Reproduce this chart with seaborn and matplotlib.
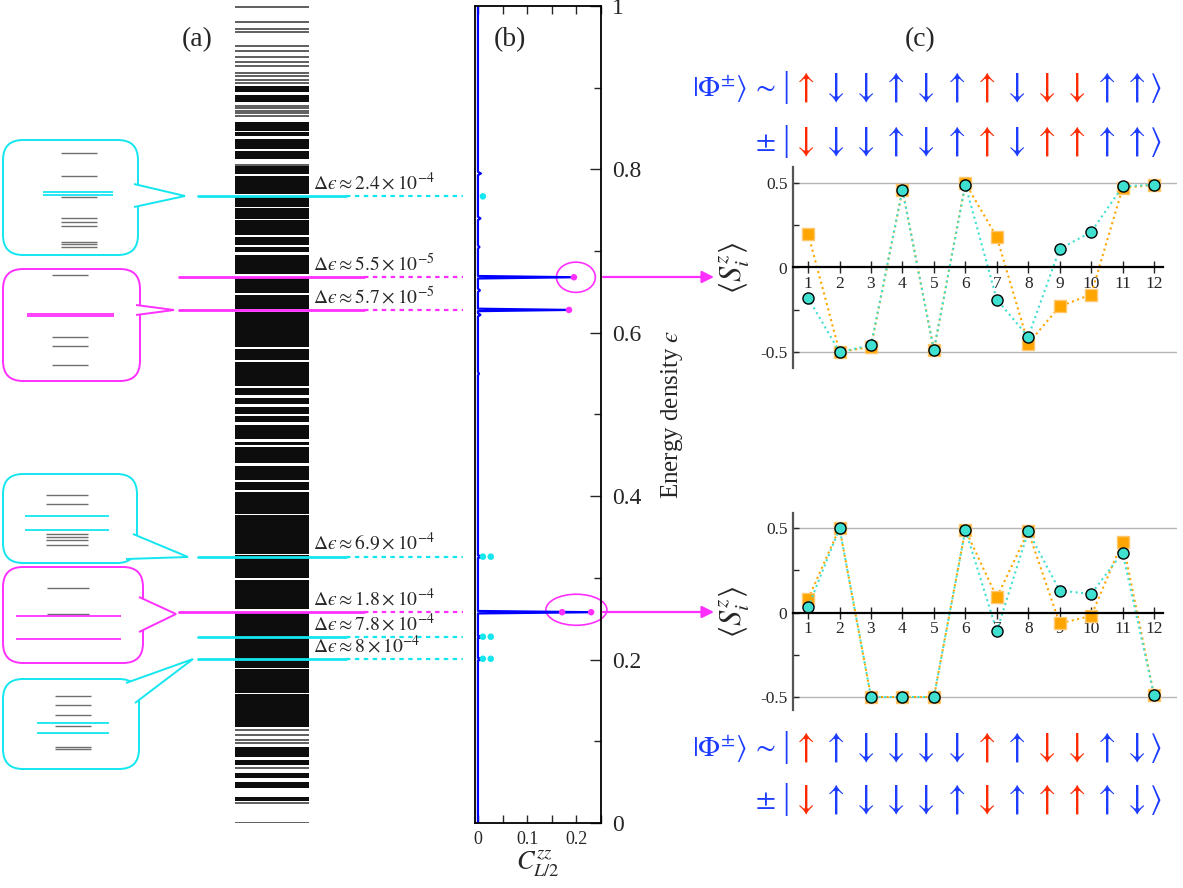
import matplotlib
matplotlib.use("Agg")
import matplotlib.pyplot as plt
import seaborn as sns
from matplotlib.patches import FancyBboxPatch, Polygon, Ellipse

# ---------------- data ----------------
# (a) spectrum: isolated levels and dense clusters (energy density)
single_levels = [0.999, 0.980, 0.972, 0.968, 0.951, 0.945, 0.938, 0.932, 0.927,
                 0.918, 0.914, 0.909, 0.906, 0.878, 0.875, 0.872, 0.869, 0.865,
                 0.805, 0.114, 0.108, 0.102, 0.098, 0.067, 0.024, 0.0]
level_bands = [(0.895, 0.901), (0.883, 0.891), (0.848, 0.858), (0.841, 0.845),
               (0.825, 0.837), (0.813, 0.822), (0.795, 0.803), (0.771, 0.791),
               (0.754, 0.767), (0.740, 0.752), (0.720, 0.738), (0.708, 0.717),
               (0.699, 0.705), (0.673, 0.695), (0.649, 0.668), (0.630, 0.646),
               (0.583, 0.625), (0.567, 0.579), (0.536, 0.564), (0.524, 0.532),
               (0.513, 0.520), (0.501, 0.509), (0.491, 0.497), (0.471, 0.487),
               (0.463, 0.466), (0.441, 0.460), (0.420, 0.436), (0.408, 0.417),
               (0.395, 0.405), (0.387, 0.393), (0.379, 0.386), (0.330, 0.377),
               (0.300, 0.328), (0.263, 0.297), (0.246, 0.258), (0.220, 0.245),
               (0.190, 0.218), (0.160, 0.188), (0.138, 0.157), (0.118, 0.136),
               (0.081, 0.092), (0.071, 0.077), (0.056, 0.061), (0.043, 0.049),
               (0.028, 0.031)]

# highlighted near-degenerate pairs
pair_energy = [0.767, 0.668, 0.628, 0.326, 0.258, 0.228, 0.201]
pair_kind = ["c", "m", "m", "c", "m", "c", "c"]
pair_gap = [r"2.4\times10^{-4}", r"5.5\times10^{-5}", r"5.7\times10^{-5}",
            r"6.9\times10^{-4}", r"1.8\times10^{-4}", r"7.8\times10^{-4}",
            r"8\times10^{-4}"]

# (b) half-chain correlator vs energy density
c_energy = [0.0, 0.199, 0.2005, 0.202, 0.2265, 0.2275, 0.229, 0.2565, 0.258,
            0.2595, 0.3245, 0.326, 0.3275, 0.548, 0.55, 0.552, 0.620, 0.622,
            0.624, 0.6265, 0.628, 0.6295, 0.650, 0.652, 0.654, 0.6665, 0.668,
            0.6695, 0.703, 0.705, 0.707, 0.738, 0.740, 0.742, 0.793, 0.795,
            0.797, 1.0]
c_value = [0.0, 0.0, 0.012, 0.0, 0.0, 0.012, 0.0, 0.0, 0.230,
           0.0, 0.0, 0.012, 0.0, 0.0, 0.002, 0.0, 0.0, 0.005,
           0.0, 0.0, 0.185, 0.0, 0.0, 0.004, 0.0, 0.0, 0.195,
           0.0, 0.0, 0.003, 0.0, 0.0, 0.005, 0.0, 0.0, 0.006,
           0.0, 0.0]
cyan_dot_e = [0.767, 0.326, 0.326, 0.228, 0.228, 0.201, 0.201]
cyan_dot_c = [0.010, 0.010, 0.026, 0.010, 0.026, 0.010, 0.026]
mag_dot_e = [0.668, 0.628, 0.258, 0.258]
mag_dot_c = [0.195, 0.185, 0.171, 0.230]

# (c) local magnetisation of the two states
sites = list(range(1, 13))
top_square = [0.20, -0.50, -0.47, 0.46, -0.49, 0.50, 0.18, -0.45, -0.23, -0.16, 0.47, 0.49]
top_circle = [-0.18, -0.50, -0.46, 0.46, -0.49, 0.49, -0.19, -0.41, 0.11, 0.21, 0.48, 0.49]
bot_square = [0.08, 0.50, -0.50, -0.50, -0.50, 0.49, 0.09, 0.48, -0.065, -0.02, 0.42, -0.49]
bot_circle = [0.03, 0.50, -0.50, -0.50, -0.50, 0.49, -0.11, 0.48, 0.13, 0.11, 0.355, -0.49]

top_plus = list("udduduuddduu")
top_minus = list("ddduduuduuuu")
bot_plus = list("uudddduuddud")
bot_minus = list("duddduduuuud")
red_sites = [1, 7, 9, 10]

# ---------------- style ----------------
sns.set_theme(style="white")
plt.rcParams["font.family"] = ["Liberation Serif", "DejaVu Serif"]
plt.rcParams["mathtext.fontset"] = "stix"

CYAN = "#14e6ef"
MAG = "#ff30ff"
BLUE = "#1c3cff"
RED = "#ff2a00"
col = {"c": CYAN, "m": MAG}

W, H = 1183, 888
fig = plt.figure(figsize=(W / 100, H / 100), dpi=100)


def frac(x0, y0, x1, y1):
    return [x0 / W, (H - y1) / H, (x1 - x0) / W, (y1 - y0) / H]


# ---------------- panel (a) ----------------
ax_a = fig.add_axes(frac(0, 6, 475, 823))
ax_a.set_xlim(0, 475)
ax_a.set_ylim(0, 1)
ax_a.axis("off")
for lo, hi in level_bands:
    # levels drawn ~1 px thick, so clusters reach a little past their outer levels
    ax_a.fill_between([235, 309], lo - 0.0006, hi + 0.0006, color="#0d0d0d", lw=0)
ax_a.hlines(single_levels, 235, 309, color="#333333", lw=1.1)
for e, k, g in zip(pair_energy, pair_kind, pair_gap):
    x0, x1 = (198, 346) if k == "c" else (179, 364)
    ax_a.plot([x0, x1], [e, e], color=col[k], lw=2, zorder=5)
    ax_a.plot([x1, 463], [e, e], color=col[k], lw=1.6, ls=(0, (2, 2)), zorder=5)
    ax_a.text(313, e + 0.003, "$\\Delta ϵ\\approx" + g + "$", fontsize=14,
              ha="left", va="bottom", zorder=6)

# ---------------- panel (b) ----------------
ax_b = fig.add_axes(frac(475, 6, 601, 823))
sns.lineplot(x=c_value, y=c_energy, sort=False, estimator=None, ax=ax_b,
             color="blue", lw=1.6)
sns.scatterplot(x=cyan_dot_c, y=cyan_dot_e, ax=ax_b, color=CYAN, s=22,
                edgecolor="none", zorder=5)
sns.scatterplot(x=mag_dot_c, y=mag_dot_e, ax=ax_b, color=MAG, s=22,
                edgecolor="none", zorder=5)
ax_b.add_patch(Ellipse((0.199, 0.668), 0.079, 0.037, fill=False, ec=MAG,
                       lw=1.2, clip_on=False))
ax_b.add_patch(Ellipse((0.200, 0.261), 0.124, 0.038, fill=False, ec=MAG,
                       lw=1.2, clip_on=False))
ax_b.set_xlim(-0.006, 0.25)
ax_b.set_ylim(0, 1)
ax_b.set_xticks([0, 0.1, 0.2])
ax_b.set_xticklabels(["0", "0.1", "0.2"])
ax_b.set_xticks([0.05, 0.15, 0.25], minor=True)
ax_b.set_yticks([0, 0.2, 0.4, 0.6, 0.8, 1.0])
ax_b.set_yticklabels(["0", "0.2", "0.4", "0.6", "0.8", "1"])
ax_b.set_yticks([0.1, 0.3, 0.5, 0.7, 0.9], minor=True)
ax_b.yaxis.tick_right()
ax_b.tick_params(axis="y", which="both", direction="in", left=False, right=True,
                 labelsize=17, pad=8)
ax_b.tick_params(axis="y", which="major", length=8, width=1)
ax_b.tick_params(axis="y", which="minor", length=5, width=1)
ax_b.tick_params(axis="x", which="both", direction="in", top=True, bottom=True,
                 labelsize=13, length=6, width=1, pad=6)
for s in ax_b.spines.values():
    s.set_color("black")
    s.set_linewidth(1.3)
ax_b.set_xlabel(r"$C^{zz}_{L/2}$", fontsize=19, labelpad=0)
ax_b.set_ylabel("Energy density $ϵ$", fontsize=18)
ax_b.yaxis.set_label_position("right")
ax_b.yaxis.set_label_coords(1.46, 0.5)


# ---------------- panel (c) ----------------
def mag_panel(box, ylim, squares, circles):
    ax = fig.add_axes(frac(*box))
    sns.lineplot(x=sites, y=squares, ax=ax, color="orange", lw=1.5, ls=":",
                 marker="s", markersize=8.5, markeredgecolor="#ffc870",
                 markeredgewidth=1)
    sns.lineplot(x=sites, y=circles, ax=ax, color="#40e0d0", lw=1.5, ls=":",
                 marker="o", markersize=8, markeredgecolor="black",
                 markeredgewidth=1)
    ax.set_xlim(0.52, 12.73)
    ax.set_ylim(*ylim)
    for y in (-0.5, 0.5):
        ax.axhline(y, color="#b5b5b5", lw=1, zorder=0)
    ax.spines["top"].set_visible(False)
    ax.spines["right"].set_visible(False)
    ax.spines["left"].set_color("#555555")
    ax.spines["left"].set_linewidth(1.6)
    ax.spines["bottom"].set_position(("data", 0))
    ax.spines["bottom"].set_bounds(0.52, 12.29)
    ax.spines["bottom"].set_color("black")
    ax.spines["bottom"].set_linewidth(1.6)
    ax.set_xticks(sites)
    ax.set_yticks([-0.5, 0, 0.5])
    ax.set_yticklabels(["-0.5", "0", "0.5"])
    ax.set_yticks([-0.25, 0.25], minor=True)
    ax.tick_params(axis="x", direction="inout", length=8, width=1,
                   labelsize=12.5, pad=2, bottom=True)
    ax.tick_params(axis="y", which="both", direction="in", labelsize=12.5,
                   length=4, width=1, left=True, pad=4)
    ax.set_ylabel(r"$\langle S_i^z\rangle$", fontsize=22)
    ax.yaxis.set_label_coords(-0.107, 0.5)
    ax.patch.set_alpha(0)
    return ax


mag_panel((793, 167, 1177, 368), (-0.595, 0.595), top_square, top_circle)
mag_panel((793, 513, 1177, 710), (-0.577, 0.589), bot_square, bot_circle)

# ---------------- overlay (labels, callouts, spin strings) ----------------
ov = fig.add_axes([0, 0, 1, 1])
ov.set_xlim(0, W)
ov.set_ylim(H, 0)
ov.axis("off")
ov.patch.set_alpha(0)

for x, lab in [(197, "(a)"), (510, "(b)"), (920, "(c)")]:
    ov.text(x, 40, lab, fontsize=20, ha="center", va="center")

# callout bubbles: box, colour, tail, inset levels (grey) and pair lines
bubbles = [
    ((3, 140, 138, 255), "c", [(134, 184), (185, 196), (134, 207)],
     (61, 97, [153, 176, 197, 218, 222, 226, 242, 244.5, 247]), (43, 113, [192, 195])),
    ((3, 269, 140, 381), "m", [(136, 305), (174, 310), (136, 315)],
     (52, 88, [275, 337, 346, 365]), (27, 114, [314, 316])),
    ((3, 474, 137, 563), "c", [(133, 534), (188, 557), (126, 559)],
     (46, 88, [495, 504, 534, 537, 540, 545]), (25, 109, [516, 530])),
    ((3, 567, 143, 663), "m", [(139, 597), (176, 614), (139, 632)],
     (47, 89, [588, 614]), (16, 121, [616, 639])),
    ((3, 679, 139, 769), "c", [(126, 683), (193, 659), (135, 703)],
     (55, 91, [696, 705, 715, 726, 747, 749]), (37, 109, [723, 733])),
]
for (x0, y0, x1, y1), k, tail, grey, pair in bubbles:
    ov.add_patch(FancyBboxPatch((x0, y0), x1 - x0, y1 - y0,
                                boxstyle="round,pad=0,rounding_size=20",
                                fc="white", ec=col[k], lw=1.4))
    ov.add_patch(Polygon(tail, closed=False, fc="white", ec=col[k], lw=1.4))
    ov.hlines(grey[2], grey[0], grey[1], color="#6f6f6f", lw=1.0)
    ov.hlines(pair[2], pair[0], pair[1], color=col[k], lw=1.3)

# arrows from (b) to (c)
for y in (277, 612):
    ov.annotate("", xy=(714, y), xytext=(603, y),
                arrowprops=dict(arrowstyle="-|>", color=MAG, lw=1.6,
                                mutation_scale=18, shrinkA=0, shrinkB=0))

# spin configurations
arrow_x = [803 + 30.05 * i for i in range(12)]


def spin_row(y, spins, prefix, prefix_x):
    ov.text(prefix_x, y, prefix, fontsize=21, color=BLUE, ha="right", va="center")
    ov.text(786, y - 1, "|", fontsize=26, color=BLUE, ha="center", va="center",
            family="Liberation Serif")
    for i, (x, s) in enumerate(zip(arrow_x, spins)):
        c = RED if (i + 1) in red_sites else BLUE
        glyph = r"$\uparrow$" if s == "u" else r"$\downarrow$"
        ov.text(x, y, glyph, fontsize=26, color=c, ha="center", va="center")
    ov.text(1155, y, r"$\rangle$", fontsize=23, color=BLUE, ha="center", va="center")


spin_row(88, top_plus, r"$|\Phi^{\pm}\rangle\,\sim$", 776)
spin_row(142, top_minus, r"$\pm$", 776)
spin_row(748, bot_plus, r"$|\Phi^{\pm}\rangle\,\sim$", 776)
spin_row(800, bot_minus, r"$\pm$", 776)

fig.savefig("out.png", dpi=100)
